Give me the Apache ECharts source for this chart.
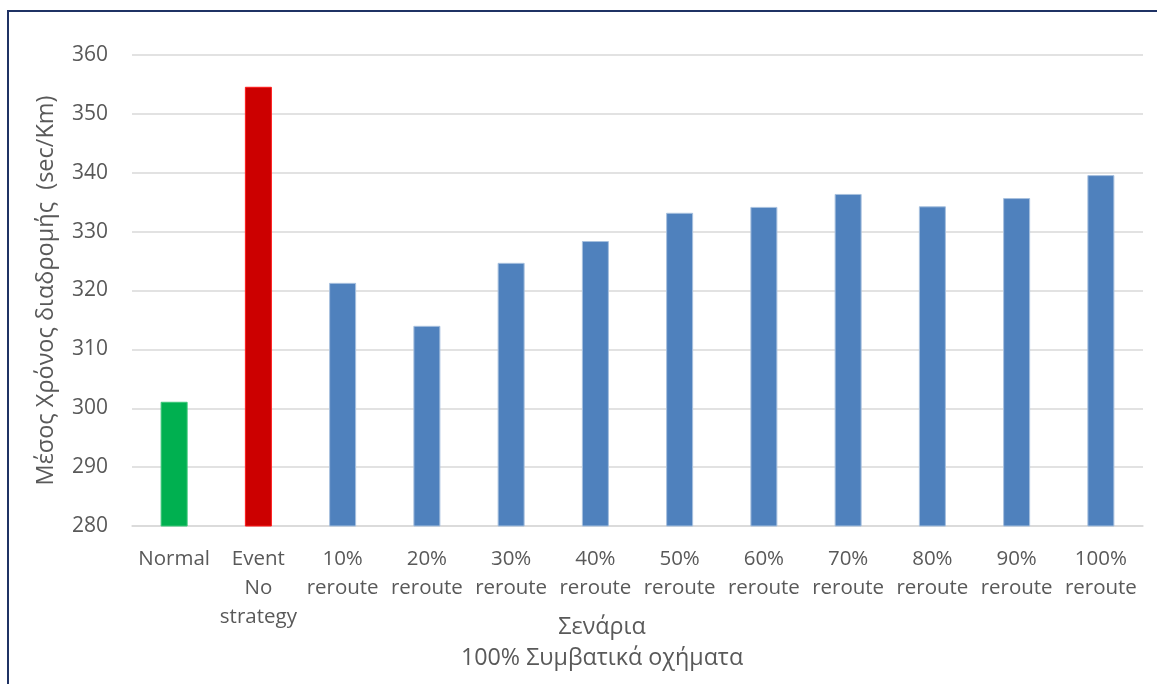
<!DOCTYPE html>
<html>
<head>
<meta charset="utf-8">
<script src="https://cdn.jsdelivr.net/npm/echarts@6/dist/echarts.min.js"></script>
<style>
  html, body { margin: 0; padding: 0; background: #fff; }
  #chart { width: 1157px; height: 684px; }
</style>
</head>
<body>
<div id="chart"></div>
<script>
// Scenario categories (x axis)
const categories = [
  'Normal', 'Event\nNo\nstrategy',
  '10%\nreroute', '20%\nreroute', '30%\nreroute', '40%\nreroute', '50%\nreroute',
  '60%\nreroute', '70%\nreroute', '80%\nreroute', '90%\nreroute', '100%\nreroute'
];
// Mean travel time (sec/Km) per scenario
const travelTime = [301.1, 354.6, 321.3, 314.0, 324.7, 328.4, 333.2, 334.2, 336.4, 334.3, 335.7, 339.6];
// Y axis range and step
const yMin = 280, yMax = 360, yStep = 10;

// Bar fill / edge colours per scenario
const fillColors = ['#00B050', '#CC0000'].concat(Array(10).fill('#4F81BD'));
const edgeColors = ['#3CC778', '#FF1A1A'].concat(Array(10).fill('#A7C0DE'));

const FONT = 'Open Sans';
const TEXT = '#595959';

const chart = echarts.init(document.getElementById('chart'), null, { renderer: 'canvas' });
chart.setOption({
  animation: false,
  backgroundColor: '#fff',
  textStyle: { fontFamily: FONT },
  grid: { left: 132, right: 14, top: 55, bottom: 158 },
  title: {
    text: 'Σενάρια\n100% Συμβατικά οχήματα',
    left: 597, top: 607, textAlign: 'center',
    textStyle: { fontFamily: FONT, fontSize: 23.3, fontWeight: 'normal', color: TEXT, lineHeight: 31 }
  },
  graphic: [{
    type: 'rect', silent: true,
    shape: { x: 8, y: 11, width: 1200, height: 720 },
    style: { fill: 'none', stroke: '#1F3264', lineWidth: 2 }
  }],
  xAxis: {
    type: 'category',
    data: categories,
    axisLine: { lineStyle: { color: '#D9D9D9', width: 1.5 } },
    axisTick: { show: false },
    axisLabel: {
      interval: 0, margin: 19,
      fontFamily: FONT, fontSize: 20.5, color: TEXT, lineHeight: 29
    }
  },
  yAxis: {
    type: 'value', min: yMin, max: yMax, interval: yStep,
    name: 'Μέσος Χρόνος διαδρομής  (sec/Km)',
    nameLocation: 'middle', nameGap: 74,
    nameTextStyle: { fontFamily: FONT, fontSize: 23.5, color: TEXT },
    axisLine: { show: false },
    axisTick: { show: false },
    axisLabel: { margin: 24, fontFamily: FONT, fontSize: 21, color: TEXT },
    splitLine: { lineStyle: { color: '#D9D9D9', width: 1.5 } }
  },
  series: [{
    type: 'bar',
    barWidth: 27,
    data: travelTime.map((v, i) => ({
      value: v,
      itemStyle: { color: fillColors[i], borderColor: edgeColors[i], borderWidth: 1 }
    }))
  }]
});
</script>
</body>
</html>
